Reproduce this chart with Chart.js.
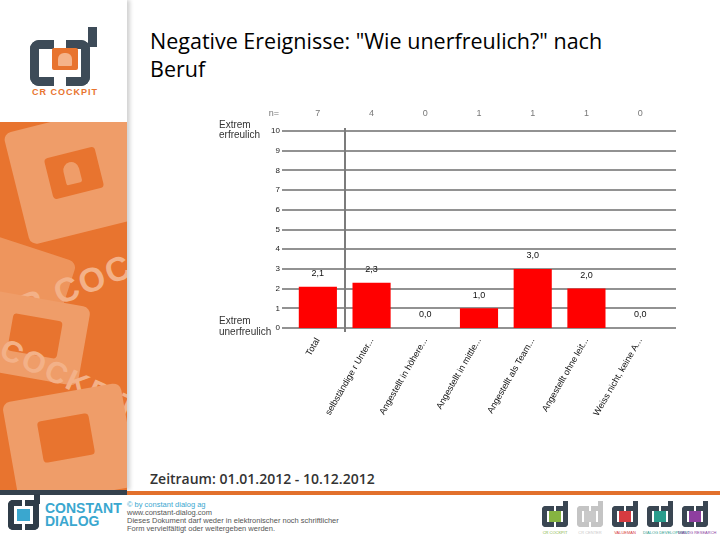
<!DOCTYPE html>
<html>
<head>
<meta charset="utf-8">
<script src="https://cdn.jsdelivr.net/npm/chart.js@4.4.1/dist/chart.umd.min.js"></script>
<style>
html, body { margin: 0; padding: 0; }
body { width: 720px; height: 540px; position: relative; overflow: hidden; background: #fff; font-family: "Liberation Sans", Arial, sans-serif; }
.abs { position: absolute; }
#side { left: 0; top: 0; width: 127px; height: 490px; background: #fff; box-shadow: 3px 0 4px rgba(0,0,0,0.18); }
#orange { left: 0; top: 122px; width: 127px; height: 368px; background: #e8742f; overflow: hidden; }
.light { background: #ef9d69; border-radius: 8px; }
.dark { background: #e8742f; border-radius: 4px; }
.wm { color: #f3b188; font-weight: bold; font-size: 34px; letter-spacing: 2px; white-space: nowrap; }
.br { border: 0 solid #3d4b58; box-sizing: border-box; }
#title { left: 150px; top: 27px; width: 475px; font-family: "Open Sans", sans-serif; font-size: 21.5px; line-height: 28px; color: #000; }
#period { left: 150px; top: 469px; font-family: "Open Sans", sans-serif; font-weight: 600; font-size: 14px; color: #333; }
#chart { left: 0; top: 0; }
.foot { font-size: 7.5px; color: #555; line-height: 8px; white-space: nowrap; }
.cap { font-size: 4px; text-align: center; width: 34px; white-space: nowrap; }
</style>
</head>
<body>

<div id="side" class="abs">
  <!-- CR Cockpit logo -->
  <div class="abs br" style="left:30px;top:40px;width:24px;height:46px;border-width:9px 0 9px 9px;border-radius:9px 0 0 9px;"></div>
  <div class="abs br" style="left:66px;top:40px;width:24px;height:46px;border-width:9px 9px 9px 0;border-radius:0 9px 9px 0;"></div>
  <div class="abs" style="left:88px;top:27px;width:9px;height:20px;background:#3d4b58;"></div>
  <div class="abs" style="left:52px;top:48px;width:26px;height:22px;background:#e8742f;border-radius:2px;"></div>
  <div class="abs" style="left:58px;top:53px;width:14px;height:13px;background:#f5b389;border-radius:6px 6px 1px 1px;"></div>
  <div class="abs" style="left:29px;top:87px;width:72px;text-align:center;color:#e8742f;font-size:9px;font-weight:bold;letter-spacing:1px;">CR COCKPIT</div>

  <div id="orange" class="abs">
    <div class="abs light" style="left:15px;top:-5px;width:125px;height:115px;transform:rotate(-14deg);"></div>
    <div class="abs dark" style="left:48px;top:30px;width:52px;height:42px;transform:rotate(-14deg);"></div>
    <div class="abs light" style="left:64px;top:40px;width:16px;height:22px;border-radius:8px 8px 2px 2px;transform:rotate(-14deg);"></div>
    <div class="abs light" style="left:-20px;top:125px;width:90px;height:60px;transform:rotate(18deg);opacity:0.8;"></div>
    <div class="abs wm" style="left:-10px;top:150px;transform:rotate(-22deg);">CR COC</div>
    <div class="abs light" style="left:-30px;top:175px;width:115px;height:80px;transform:rotate(10deg);"></div>
    <div class="abs dark" style="left:10px;top:195px;width:50px;height:38px;transform:rotate(10deg);"></div>
    <div class="abs wm" style="left:-5px;top:240px;font-size:30px;transform:rotate(25deg);">COCKPIT</div>
    <div class="abs light" style="left:10px;top:270px;width:120px;height:105px;transform:rotate(-10deg);"></div>
    <div class="abs dark" style="left:40px;top:295px;width:52px;height:42px;transform:rotate(-10deg);"></div>
  </div>
</div>

<div class="abs" style="left:0;top:490px;width:127px;height:5px;background:#34414d;"></div>
<div class="abs" style="left:127px;top:491px;width:593px;height:4px;background:#e2702c;"></div>

<div id="title" class="abs">Negative Ereignisse: "Wie unerfreulich?" nach Beruf</div>
<div id="period" class="abs">Zeitraum: 01.01.2012 - 10.12.2012</div>

<!-- footer left -->
<div class="abs br" style="left:8px;top:500px;width:14px;height:30px;border-color:#2f3c48;border-width:6px 0 6px 6px;border-radius:5px 0 0 5px;"></div>
<div class="abs br" style="left:25px;top:500px;width:14px;height:30px;border-color:#2f3c48;border-width:6px 6px 6px 0;border-radius:0 5px 5px 0;"></div>
<div class="abs" style="left:34px;top:494px;width:6px;height:10px;background:#2f3c48;"></div>
<div class="abs" style="left:17px;top:509px;width:13px;height:12px;background:#3aa7cf;"></div>
<div class="abs" style="left:45px;top:502px;color:#3aa7cf;font-weight:bold;font-size:14px;line-height:13px;">CONSTANT<br>DIALOG</div>
<div class="abs foot" style="left:127px;top:501px;"><span style="color:#3aa7cf">© by constant dialog ag</span><br>www.constant-dialog.com<br>Dieses Dokument darf weder in elektronischer noch schriftlicher<br>Form vervielfältigt oder weitergeben werden.</div>

<!-- footer right logos -->
<div id="logos"></div>

<canvas id="chart" class="abs" width="720" height="540"></canvas>

<script>
// Kategorien und Werte
const categories = ['Total', 'selbständige r Unter...', 'Angestellt in höhere...', 'Angestellt in mittle...',
                    'Angestellt als Team...', 'Angestellt ohne leit...', 'Weiss nicht, keine A...'];
const values = [2.1, 2.3, 0.0, 1.0, 3.0, 2.0, 0.0];
const counts = [7, 4, 0, 1, 1, 1, 0];
const yTicks = [0, 1, 2, 3, 4, 5, 6, 7, 8, 9, 10];

// Footer-Logos (nur Dekoration)
const logoColors = ['#86b441', '#c9c9c9', '#d63b40', '#2a9c8c', '#8e3f9f'];
const logoCaps = ['CR COCKPIT', 'CR CENTER', 'VALUEMAN', 'DIALOG DEVELOPMENT', 'DIALOG RESEARCH'];
const logos = document.getElementById('logos');
logoColors.forEach((c, i) => {
    const x = 542 + i * 35;
    const frame = i === 1 ? '#c4c4c4' : '#3a4652';
    logos.innerHTML +=
        `<div class="abs br" style="left:${x}px;top:506px;width:12px;height:21px;border-color:${frame};border-width:5px 0 5px 5px;border-radius:4px 0 0 4px;"></div>` +
        `<div class="abs br" style="left:${x + 14}px;top:506px;width:12px;height:21px;border-color:${frame};border-width:5px 5px 5px 0;border-radius:0 4px 4px 0;"></div>` +
        `<div class="abs" style="left:${x + 21}px;top:501px;width:5px;height:8px;background:${frame};"></div>` +
        `<div class="abs" style="left:${x + 7}px;top:511px;width:12px;height:11px;background:${c};"></div>` +
        `<div class="abs cap" style="left:${x - 4}px;top:530px;color:${c};">${logoCaps[i]}</div>`;
});

const fmt = v => v.toFixed(1).replace('.', ',');

// Gitterlinien, Trennlinie, Beschriftungen
const decor = {
    id: 'decor',
    beforeDatasetsDraw(chart) {
        const { ctx, chartArea: a, scales: { x, y } } = chart;
        ctx.save();
        ctx.strokeStyle = '#929292';
        ctx.lineWidth = 2;
        yTicks.forEach(v => {
            const py = Math.round(y.getPixelForValue(v));
            ctx.beginPath();
            ctx.moveTo(a.left - 9, py);
            ctx.lineTo(a.right + 9, py);
            ctx.stroke();
        });
        const sx = Math.round((x.getPixelForValue(0) + x.getPixelForValue(1)) / 2);
        ctx.strokeStyle = '#7c7c7c';
        ctx.beginPath();
        ctx.moveTo(sx, a.top - 3);
        ctx.lineTo(sx, a.bottom + 4);
        ctx.stroke();
        ctx.restore();
    },
    afterDatasetsDraw(chart) {
        const { ctx, chartArea: a, scales: { x, y } } = chart;
        ctx.save();
        ctx.textBaseline = 'middle';
        // Werte ueber den Balken
        ctx.font = '9px "Liberation Sans"';
        ctx.fillStyle = '#111';
        ctx.textAlign = 'center';
        chart.getDatasetMeta(0).data.forEach((bar, i) => {
            ctx.fillText(fmt(values[i]), bar.x, bar.y - 13);
        });
        // n= Zeile
        ctx.fillStyle = '#777';
        ctx.fillText('n=', a.left - 17, a.top - 17);
        counts.forEach((c, i) => ctx.fillText(String(c), x.getPixelForValue(i), a.top - 17));
        // Extrem-Beschriftung
        ctx.font = '10px "Liberation Sans"';
        ctx.fillStyle = '#333';
        ctx.textAlign = 'left';
        const lx = a.left - 72;
        const top = y.getPixelForValue(10), bottom = y.getPixelForValue(0);
        ctx.fillText('Extrem', lx, top - 6);
        ctx.fillText('erfreulich', lx, top + 4);
        ctx.fillText('Extrem', lx, bottom - 7);
        ctx.fillText('unerfreulich', lx, bottom + 4);
        ctx.restore();
    }
};

new Chart(document.getElementById('chart'), {
    type: 'bar',
    data: {
        labels: categories,
        datasets: [{
            data: values,
            backgroundColor: '#ff0000',
            barPercentage: 0.71,
            categoryPercentage: 1.0
        }]
    },
    options: {
        responsive: false,
        animation: false,
        devicePixelRatio: 1,
        layout: { padding: { left: 251, right: 53, top: 131, bottom: 112 } },
        plugins: { legend: { display: false }, tooltip: { enabled: false } },
        scales: {
            x: {
                grid: { display: false, drawTicks: false },
                border: { display: false },
                ticks: {
                    autoSkip: false, minRotation: 60, maxRotation: 60, padding: 8,
                    color: '#111', font: { family: 'Liberation Sans', size: 9 }
                },
                afterFit(s) { s.height = 100; }
            },
            y: {
                min: 0, max: 10,
                grid: { display: false, drawTicks: false },
                border: { display: false },
                ticks: { stepSize: 1, padding: 11, color: '#222', font: { family: 'Liberation Sans', size: 8 } },
                afterFit(s) { s.width = 40; }
            }
        }
    },
    plugins: [decor]
});
</script>
</body>
</html>
